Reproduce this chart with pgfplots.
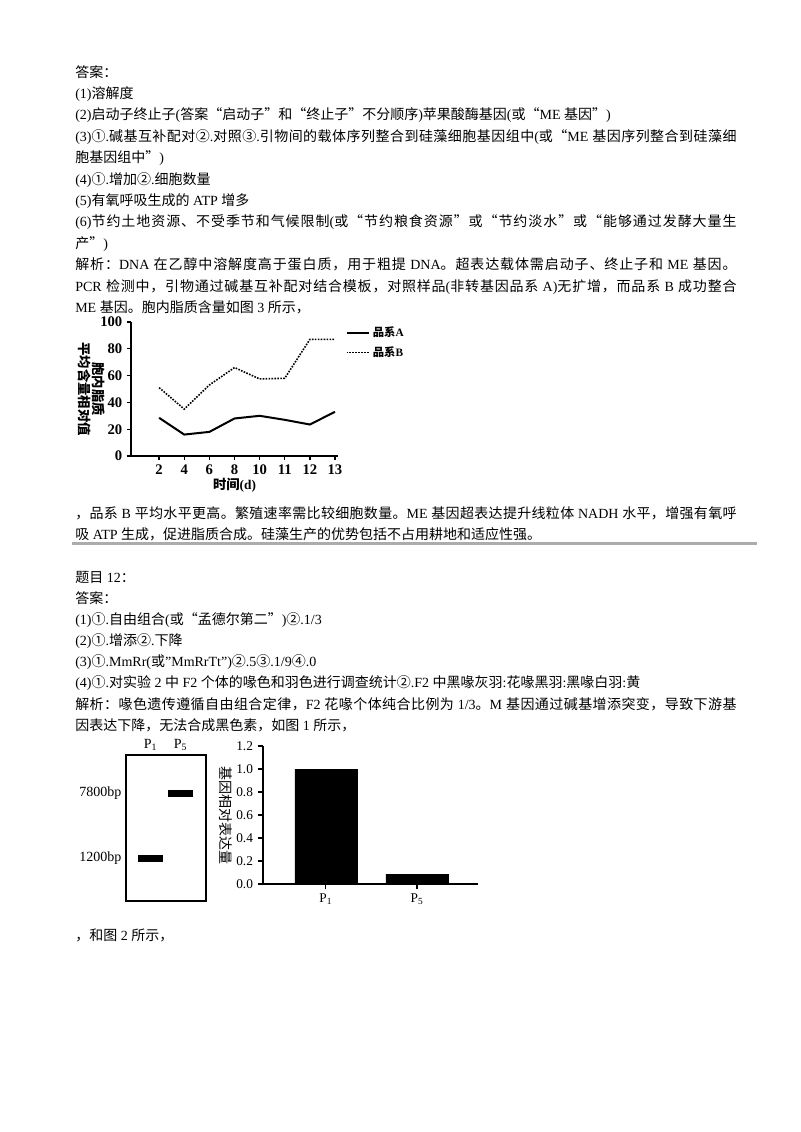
\documentclass[border=0pt]{standalone}
\usepackage{fontspec}
\setmainfont{Liberation Serif}
\newfontfamily\cjk{Noto Sans CJK SC}
\usepackage{pgfplots}
\pgfplotsset{compat=1.18}

% switch to the CJK font for Chinese characters, back for Latin
\newXeTeXintercharclass\cjkcls
\newcount\cc
\def\setcls#1#2{\cc=#1\relax\loop\ifnum\cc<#2\relax\XeTeXcharclass\cc=\cjkcls\advance\cc by 1\relax\repeat}
\setcls{"4E00}{"A000}
\setcls{"3000}{"3040}
\setcls{"FF00}{"FFF0}
\setcls{"2460}{"2500}
\XeTeXcharclass"201C=\cjkcls
\XeTeXcharclass"201D=\cjkcls
\XeTeXinterchartoks 0 \cjkcls={\cjk}
\XeTeXinterchartoks 4095 \cjkcls={\cjk}
\XeTeXinterchartoks \cjkcls 0={\rmfamily}
\XeTeXinterchartoks \cjkcls 4095={\rmfamily}
\XeTeXinterchartoks \cjkcls \cjkcls={\hskip0pt plus 1pt\relax}
\XeTeXinterchartokenstate=1

\def\fs{\fontsize{10.5}{12}\selectfont}
% justified full-width line
\newcommand\jl[1]{\hbox to 496pt{\spaceskip=2.6pt plus 1pt\relax #1}}

\begin{document}
\begin{tikzpicture}
\path[use as bounding box,fill=white] (0,0) rectangle (600pt,-849pt);

\begin{scope}[x=0.75pt,y=-0.75pt,every node/.style={anchor=base west,inner sep=0pt,font=\fs}]
\node at (75,77) {答案：};
\node at (75,98) {(1)溶解度};
\node at (75,119) {(2)启动子终止子(答案“启动子”和“终止子”不分顺序)苹果酸酶基因(或“ME 基因”)};
\node at (75,141) {\jl{(3)①.碱基互补配对②.对照③.引物间的载体序列整合到硅藻细胞基因组中(或“ME 基因序列整合到硅藻细}};
\node at (75,162) {胞基因组中”)};
\node at (75,184) {(4)①.增加②.细胞数量};
\node at (75,205) {(5)有氧呼吸生成的 ATP 增多};
\node at (75,226) {\jl{(6)节约土地资源、不受季节和气候限制(或“节约粮食资源”或“节约淡水”或“能够通过发酵大量生}};
\node at (75,248) {产”)};
\node at (75,269) {\jl{解析：DNA 在乙醇中溶解度高于蛋白质，用于粗提 DNA。超表达载体需启动子、终止子和 ME 基因。}};
\node at (75,291) {\jl{PCR 检测中，引物通过碱基互补配对结合模板，对照样品(非转基因品系 A)无扩增，而品系 B 成功整合}};
\node at (75,312) {ME 基因。胞内脂质含量如图 3 所示，};
\node at (75,518) {\jl{，品系 B 平均水平更高。繁殖速率需比较细胞数量。ME 基因超表达提升线粒体 NADH 水平，增强有氧呼}};
\node at (75,539) {吸 ATP 生成，促进脂质合成。硅藻生产的优势包括不占用耕地和适应性强。};
\draw[gray!65,line width=1.6pt] (72,543.5) -- (757,543.5);
\node at (75,582) {题目 12：};
\node at (75,603) {答案：};
\node at (75,624) {(1)①.自由组合(或“孟德尔第二”)②.1/3};
\node at (75,645) {(2)①.增添②.下降};
\node at (75,666) {(3)①.MmRr(或"MmRrTt")②.5③.1/9④.0};
\node at (75,687) {(4)①.对实验 2 中 F2 个体的喙色和羽色进行调查统计②.F2 中黑喙灰羽:花喙黑羽:黑喙白羽:黄};
\node at (75,709) {\jl{解析：喙色遗传遵循自由组合定律，F2 花喙个体纯合比例为 1/3。M 基因通过碱基增添突变，导致下游基}};
\node at (75,730) {因表达下降，无法合成黑色素，如图 1 所示，};
\node at (75,940) {，和图 2 所示，};
\end{scope}

% 图3 lipid content
\begin{axis}[
  at={(98.25pt,-342pt)}, anchor=south west,
  scale only axis, width=155.25pt, height=100.5pt,
  xmin=-0.12, xmax=8.12, ymin=0, ymax=100,
  axis x line*=bottom, axis y line*=left,
  axis line style={line width=1pt},
  xtick={1,...,8}, xticklabels={2,4,6,8,10,11,12,13},
  ytick={0,20,40,60,80,100},
  tick align=outside, major tick length=3pt,
  every tick/.style={black,line width=1pt},
  tick label style={font=\bfseries\fontsize{11}{12}\selectfont},
  /pgf/number format/assume math mode=true,
  xlabel={时间(d)},
  xlabel style={font=\bfseries\fontsize{10}{12}\selectfont,yshift=4pt},
  ylabel={胞内脂质\\平均含量相对值},
  every axis y label/.style={at={(rel axis cs:-0.19,0.5)},anchor=center,rotate=-90,
    align=center,font=\bfseries\fontsize{10}{10.5}\selectfont},
  legend style={at={(1.035,0.985)},anchor=north west,draw=none,fill=none,
    inner sep=0pt,font=\bfseries\fontsize{8.5}{10}\selectfont,row sep=2pt},
  legend cell align=left,
  legend image code/.code={\draw[#1] (0pt,0pt) -- (17pt,0pt);},
]
\addplot[black,line width=1.5pt] coordinates {
(1,28.5) (2,16) (3,18) (4,28) (5,30) (6,27) (7,23.5) (8,33)
};
\addlegendentry{品系A}
\addplot[black,line width=1.2pt,densely dotted] coordinates {
(1,51) (2,35) (3,53) (4,66) (5,57.5) (6,58) (7,87) (8,87)
};
\addlegendentry{品系B}
\end{axis}

% gel
\begin{axis}[
  at={(94.5pt,-675.75pt)}, anchor=south west,
  scale only axis, width=60pt, height=109.5pt,
  xmin=0, xmax=80, ymin=0, ymax=146,
  axis line style={line width=1pt},
  xtick={24.5,54.5}, xticklabels={P\textsubscript{1},P\textsubscript{5}},
  xticklabel pos=right,
  ytick={43,108}, yticklabels={1200bp,7800bp},
  major tick length=0pt,
  tick label style={font=\fontsize{10.5}{12}\selectfont},
]
\addplot[black,line width=5.25pt] coordinates {(12,43) (37,43)};
\addplot[black,line width=5.25pt] coordinates {(42,108) (67,108)};
\end{axis}

% bar chart
\begin{axis}[
  at={(197.25pt,-663pt)}, anchor=south west,
  scale only axis, width=161.25pt, height=103.5pt,
  xmin=0.31, xmax=2.67, ymin=0, ymax=1.2,
  axis x line*=bottom, axis y line*=left,
  axis line style={line width=0.9pt},
  xtick={1,2}, xticklabels={P\textsubscript{1},P\textsubscript{5}},
  ytick={0,0.2,0.4,0.6,0.8,1.0,1.2},
  yticklabel style={/pgf/number format/.cd,fixed,fixed zerofill,precision=1},
  tick align=outside, major tick length=4pt,
  every tick/.style={black,line width=0.9pt},
  tick label style={font=\fontsize{10}{12}\selectfont},
  /pgf/number format/assume math mode=true,
  ylabel={基因相对表达量},
  every axis y label/.style={at={(rel axis cs:-0.175,0.5)},anchor=center,rotate=-90,
    font=\fontsize{10.5}{12}\selectfont},
]
\addplot[ybar,bar width=0.68,bar shift=0pt,fill=black,draw=black] coordinates {(1,1.0) (2,0.085)};
\end{axis}
\end{tikzpicture}
\end{document}
